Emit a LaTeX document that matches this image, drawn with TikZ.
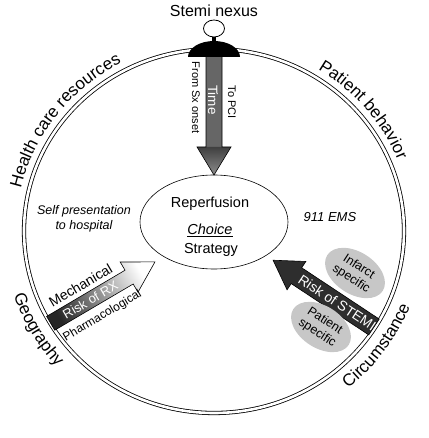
\documentclass[tikz,border=0pt]{standalone}
\usepackage{fontspec}
\setmainfont{Liberation Sans}
\usetikzlibrary{decorations.text,shapes.geometric}
\begin{document}
\begin{tikzpicture}[x=1pt,y=1pt,
  fs/.style={font=\fontsize{#1}{#1}\selectfont},
  txt/.style={inner sep=0pt},
  arctext/.style={decorate, decoration={text along path,
      text={|\fontsize{17}{17}\selectfont|#1}, text align=center}},
  blob/.style={ellipse, fill=black!22, inner sep=0pt, minimum width=66,
      minimum height=42, align=center, font=\fontsize{12.5}{14}\selectfont},
  ring/.style={line width=0.8pt, double=white, double distance=2.6pt},
  thin/.style={line width=0.6pt}
]
\useasboundingbox (-214,-207) rectangle (214,231);

% outer ring
\draw[ring] (0,0) ellipse [x radius=190, y radius=182];

% curved labels
\path[arctext={Health care resources}] (170:198 and 190)
  arc[start angle=170, end angle=115, x radius=198, y radius=190];
\path[arctext={Patient behavior}] (64:198 and 190)
  arc[start angle=64, end angle=16, x radius=198, y radius=190];
\path[arctext={Geography}] (188:211 and 204)
  arc[start angle=188, end angle=232, x radius=211, y radius=204];
\path[arctext={Circumstance}] (300:211 and 204)
  arc[start angle=300, end angle=348, x radius=211, y radius=204];

% Time arrow
\shade[left color=black!60, middle color=black!28, right color=black!60]
  (-8,176) rectangle (8,84);
\shade[top color=black!75, bottom color=black!45]
  (-17,84) -- (17,84) -- (0,56) -- cycle;
\draw[thin] (-8,176) -- (-8,84) -- (-17,84) -- (0,56) -- (17,84) -- (8,84) -- (8,176);

% Stemi nexus
\fill (-26,174) arc[start angle=180, end angle=0, x radius=26, y radius=16] -- cycle;
\fill (-2,188) rectangle (2,195);
\draw[fill=white, line width=0.8pt] (0,202.5) ellipse [x radius=10.5, y radius=8.5];
\node[txt, fs=16, anchor=base] (nexus) at (0,214) {Stemi nexus};

\node[txt, fs=11, rotate=-90] (from) at (-18,133.5) {From Sx onset};
\node[txt, fs=13.5, rotate=-90, text=white] (time) at (-1,131) {Time};
\node[txt, fs=11, rotate=-90] (topci) at (18,129) {To PCI};

% central ellipse
\node[draw, ellipse, thin, minimum width=148, minimum height=94, inner sep=0pt] (core) at (0,9) {};
\node[txt, fs=14.5, anchor=base] (rep) at (-4,23) {Reperfusion};
\node[txt, fs=14.5, anchor=base] (cho) at (-4,-4) {\underline{\textit{Choice}}};
\node[txt, fs=14.5, anchor=base] (str) at (-3,-23) {Strategy};

% side texts
\node[txt, align=center, font=\fontsize{12.5}{15}\selectfont\itshape] (self) at (-130,12) {Self presentation\\to hospital};
\node[txt, font=\fontsize{13}{13}\selectfont\itshape] (ems) at (116,14) {911 EMS};

% Risk of RX arrow
\shadedraw[top color=white, bottom color=black!85, shading angle=-59.5, thin]
  (-167.36,-85.41) -- (-88.96,-39.23) -- (-93.78,-31.04) -- (-59.05,-30.89)
  -- (-76.02,-61.2) -- (-80.84,-53.01) -- (-159.24,-99.19) -- cycle;
\node[txt, fs=13, rotate=30.5, text=white] (rx) at (-123.7,-69) {Risk of RX};
\node[txt, fs=14, rotate=30.5] (mech) at (-133.5,-54.5) {Mechanical};
\node[txt, fs=12, rotate=30.5] (pharm) at (-111.5,-85) {Pharmacological};

% Risk of STEMI arrow
\filldraw[fill=black!82, thin]
  (154.76,-103.92) -- (77.21,-52.59) -- (73.07,-58.85) -- (59.1,-29.22)
  -- (91.83,-30.49) -- (87.69,-36.75) -- (165.24,-88.08) -- cycle;
\node[txt, fs=14, rotate=-33.5, text=white] (stemi) at (123.3,-71.7) {Risk of STEMI};

% gray blobs
\node[blob, rotate=-33] (inf) at (141,-42) {Infarct\\specific};
\node[blob, rotate=-33] (pat) at (107,-96) {Patient\\specific};
\end{tikzpicture}
\end{document}
